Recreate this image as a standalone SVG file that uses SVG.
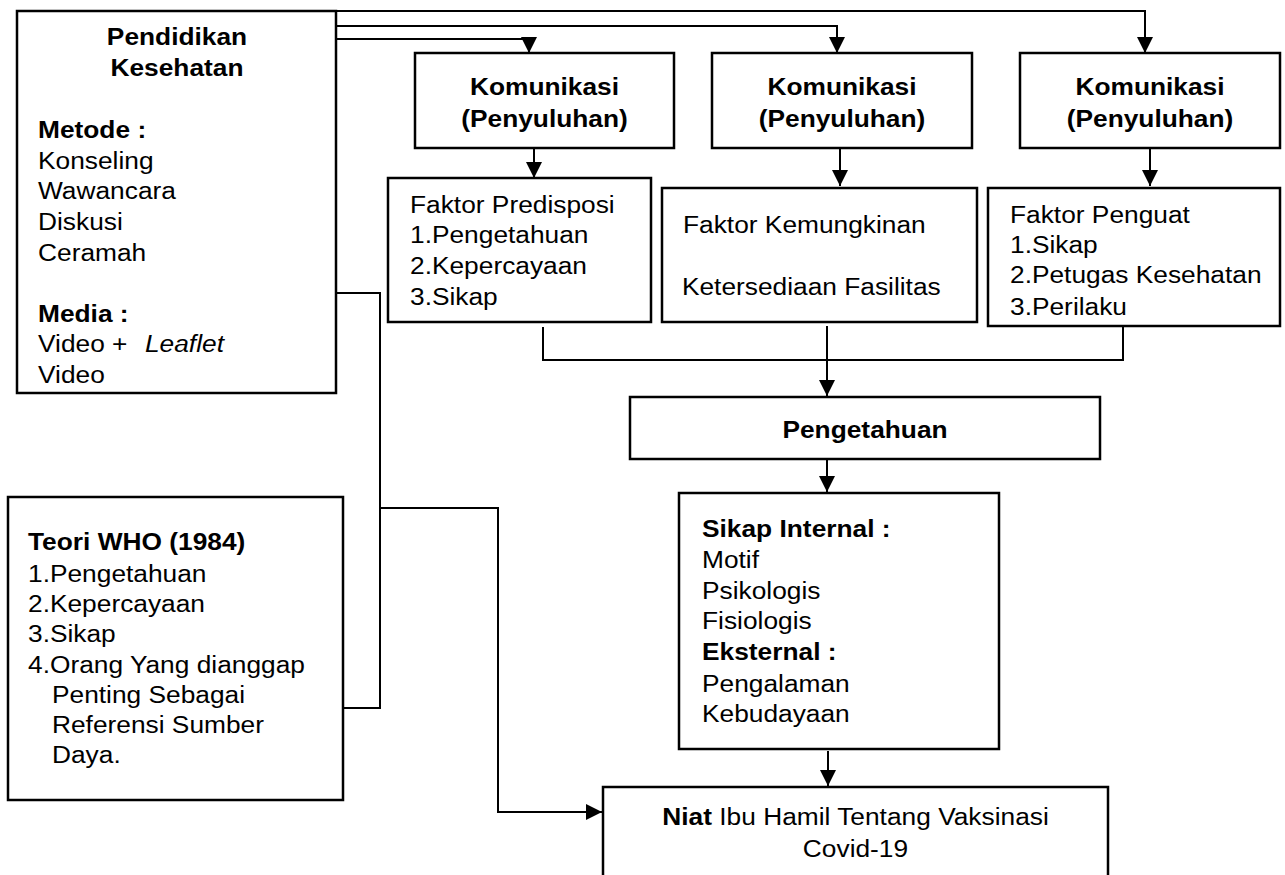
<svg xmlns="http://www.w3.org/2000/svg" width="1285" height="875" viewBox="0 0 1285 875">
<style>
.box{fill:#fff;stroke:#000;stroke-width:2.5}
.ln{fill:none;stroke:#000;stroke-width:2}
text{font-family:"Liberation Sans",Arial,sans-serif;font-size:23.5px;fill:#000}
.b{font-weight:bold}
.c{text-anchor:middle}
</style>
<defs>
<marker id="ah" markerWidth="17" markerHeight="17" refX="16" refY="8" orient="auto" markerUnits="userSpaceOnUse" overflow="visible"><path d="M0,0 L16,8 L0,16 z" fill="#000"/></marker>
</defs>
<rect width="1285" height="875" fill="#fff"/>

<g id="connectors">
<path class="ln" d="M336,11 H1145 V53" marker-end="url(#ah)"/>
<path class="ln" d="M336,26 H837 V53" marker-end="url(#ah)"/>
<path class="ln" d="M336,39 H529 V53" marker-end="url(#ah)"/>
<path class="ln" d="M534,148 V178" marker-end="url(#ah)"/>
<path class="ln" d="M840,148 V186" marker-end="url(#ah)"/>
<path class="ln" d="M1150,148 V186" marker-end="url(#ah)"/>
<path class="ln" d="M543,327 V360 H1123 V326"/>
<path class="ln" d="M827,326 V396" marker-end="url(#ah)"/>
<path class="ln" d="M827,459 V492" marker-end="url(#ah)"/>
<path class="ln" d="M828,751 V786" marker-end="url(#ah)"/>
<path class="ln" d="M336,293 H380 V708 H343"/>
<path class="ln" d="M380,508 H498 V812 H602" marker-end="url(#ah)"/>
</g>

<g id="pendidikan">
<rect class="box" x="17" y="11" width="319" height="382"/>
<g transform="translate(177,0) scale(1.12,1)">
<text class="b c" x="0" y="45">Pendidikan</text>
<text class="b c" x="0" y="76">Kesehatan</text>
</g>
<g transform="translate(38,0) scale(1.12,1)">
<text class="b" x="0" y="138">Metode :</text>
<text x="0" y="169">Konseling</text>
<text x="0" y="199">Wawancara</text>
<text x="0" y="230">Diskusi</text>
<text x="0" y="261">Ceramah</text>
<text class="b" x="0" y="322">Media :</text>
<text x="0" y="352">Video +<tspan x="95.5" font-style="italic">Leaflet</tspan></text>
<text x="0" y="383">Video</text>
</g>
</g>

<g id="komunikasi1">
<rect class="box" x="415" y="53" width="259" height="95"/>
<g transform="translate(544.5,0) scale(1.12,1)">
<text class="b c" x="0" y="95">Komunikasi</text>
<text class="b c" x="0" y="127">(Penyuluhan)</text>
</g>
</g>
<g id="komunikasi2">
<rect class="box" x="712" y="53" width="260" height="95"/>
<g transform="translate(842,0) scale(1.12,1)">
<text class="b c" x="0" y="95">Komunikasi</text>
<text class="b c" x="0" y="127">(Penyuluhan)</text>
</g>
</g>
<g id="komunikasi3">
<rect class="box" x="1020" y="53" width="260" height="95"/>
<g transform="translate(1150,0) scale(1.12,1)">
<text class="b c" x="0" y="95">Komunikasi</text>
<text class="b c" x="0" y="127">(Penyuluhan)</text>
</g>
</g>

<g id="predisposi">
<rect class="box" x="388" y="178" width="263" height="144"/>
<g transform="translate(410,0) scale(1.12,1)">
<text x="0" y="213">Faktor Predisposi</text>
<text x="0" y="243">1.Pengetahuan</text>
<text x="0" y="274">2.Kepercayaan</text>
<text x="0" y="305">3.Sikap</text>
</g>
</g>
<g id="kemungkinan">
<rect class="box" x="662" y="188" width="315" height="134"/>
<g transform="translate(683,0) scale(1.12,1)">
<text x="0" y="233">Faktor Kemungkinan</text>
<text x="-1" y="295">Ketersediaan Fasilitas</text>
</g>
</g>
<g id="penguat">
<rect class="box" x="988" y="188" width="292" height="138"/>
<g transform="translate(1010,0) scale(1.12,1)">
<text x="0" y="223">Faktor Penguat</text>
<text x="0" y="253">1.Sikap</text>
<text x="0" y="283">2.Petugas Kesehatan</text>
<text x="0" y="315">3.Perilaku</text>
</g>
</g>

<g id="pengetahuan">
<rect class="box" x="630" y="397" width="470" height="62"/>
<g transform="translate(865,0) scale(1.12,1)">
<text class="b c" x="0" y="438">Pengetahuan</text>
</g>
</g>

<g id="sikap">
<rect class="box" x="679" y="493" width="320" height="256"/>
<g transform="translate(702,0) scale(1.12,1)">
<text class="b" x="0" y="537">Sikap Internal :</text>
<text x="0" y="568">Motif</text>
<text x="0" y="599">Psikologis</text>
<text x="0" y="629">Fisiologis</text>
<text class="b" x="0" y="660">Eksternal :</text>
<text x="0" y="692">Pengalaman</text>
<text x="0" y="722">Kebudayaan</text>
</g>
</g>

<g id="niat">
<rect class="box" x="603" y="787" width="505" height="110"/>
<g transform="translate(855.5,0) scale(1.12,1)">
<text class="c" x="0" y="825"><tspan class="b">Niat</tspan> Ibu Hamil Tentang Vaksinasi</text>
<text class="c" x="0" y="857">Covid-19</text>
</g>
</g>

<g id="who">
<rect class="box" x="8" y="497" width="335" height="303"/>
<g transform="translate(28,0) scale(1.12,1)">
<text class="b" x="0" y="550">Teori WHO (1984)</text>
<text x="0" y="582">1.Pengetahuan</text>
<text x="0" y="612">2.Kepercayaan</text>
<text x="0" y="642">3.Sikap</text>
<text x="0" y="673">4.Orang Yang dianggap</text>
<text x="21.4" y="703">Penting Sebagai</text>
<text x="21.4" y="733">Referensi Sumber</text>
<text x="21.4" y="763">Daya.</text>
</g>
</g>
</svg>
